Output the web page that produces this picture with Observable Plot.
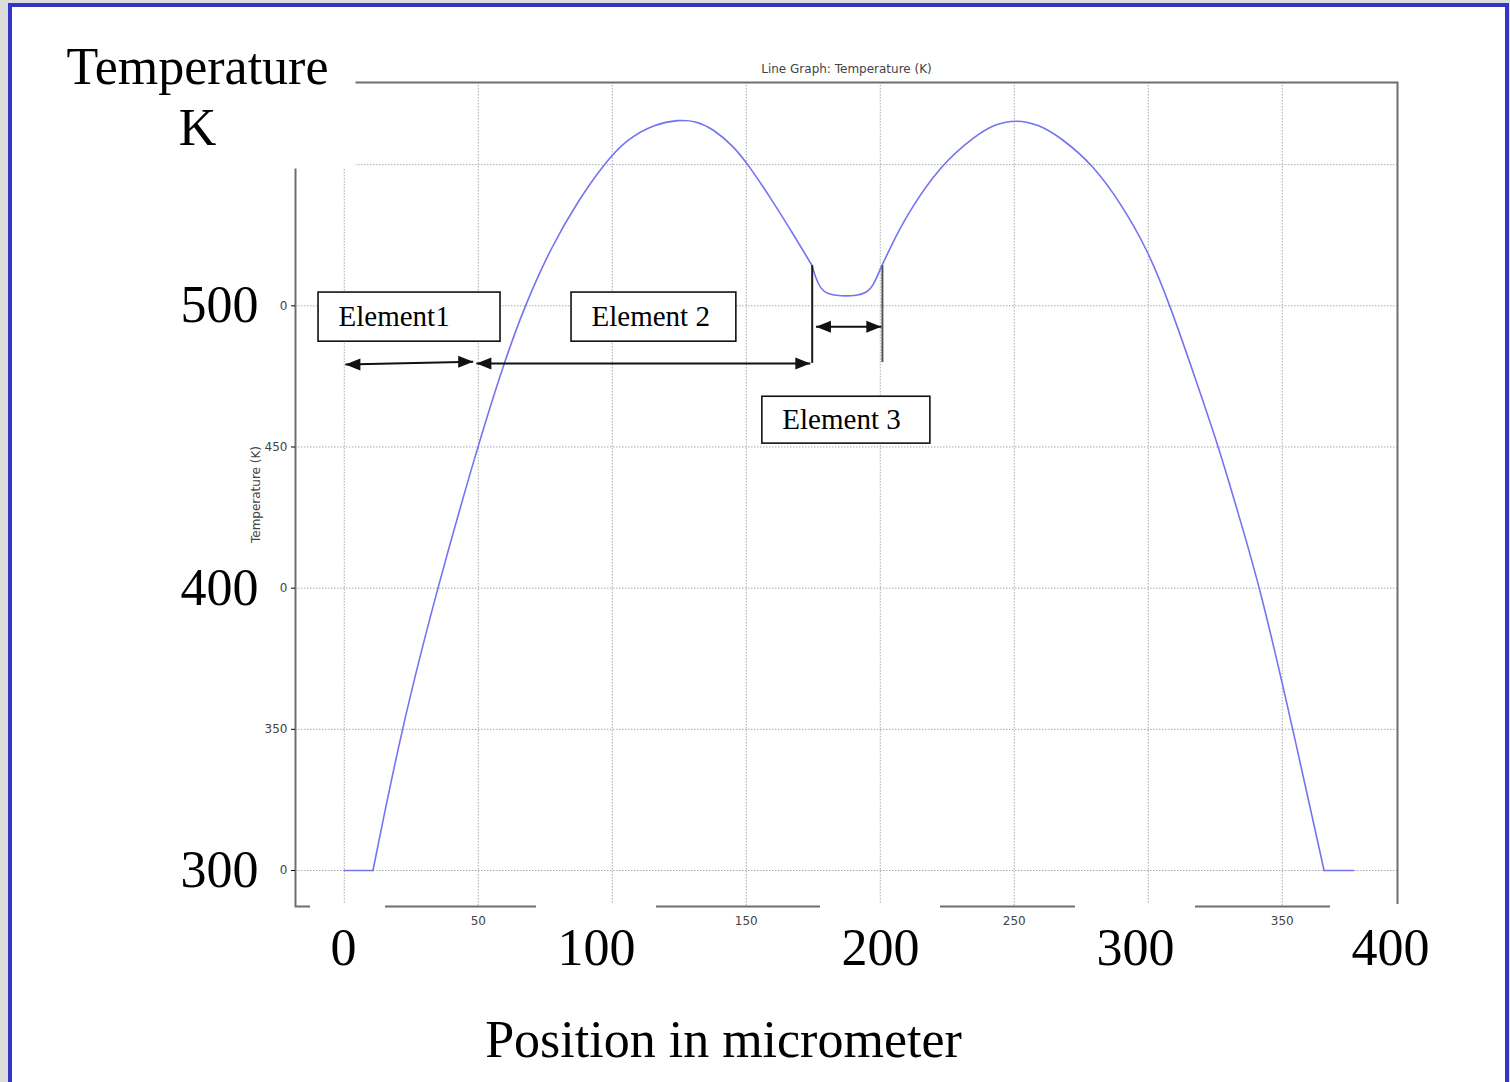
<!DOCTYPE html>
<html><head><meta charset="utf-8">
<script src="https://cdn.jsdelivr.net/npm/d3@7"></script>
<script src="https://cdn.jsdelivr.net/npm/@observablehq/plot@0.6"></script>
<style>
html,body{margin:0;padding:0;width:1510px;height:1082px;overflow:hidden;background:#dcdcdc;}
#frame{position:absolute;left:8px;top:3px;width:1493px;height:1100px;border:4px solid #3434c8;background:#fff;}
.layer{position:absolute;left:0;top:0;width:1510px;height:1082px;}
.layer svg{background:transparent !important;overflow:visible;}
</style></head><body>
<div id="frame"></div>
<div id="main" class="layer"></div>
<div id="bigx" class="layer"></div>
<div id="texts" class="layer"></div>
<script>
// ---- data ----
const posX  = [0, 10.7, 21.3, 34.7, 49.7, 59.3, 67.3, 77.3, 87.3, 96.7, 105.3, 116, 124.8, 131, 137.3, 145.3, 150.7, 158.7, 166.5, 174.6,
               175.8, 177.7, 180.2, 185.1, 191.4, 195.2, 197.4, 200.1, 203.8, 209.7, 222.6, 235.4, 243, 250.9, 259, 267.7, 279.3,
               290, 299.9, 308.2, 317.3, 326.3, 334, 341.8, 354, 365.6, 376.5];
const tempK = [300, 300, 350, 400, 450, 479, 500, 521, 537.3, 550, 559, 564.5, 565.9, 565.5, 562.9, 556.5, 550, 538.8, 527, 514.2,
               510.1, 506.1, 504.2, 503.4, 503.6, 504.8, 507.2, 513.2, 520.7, 532, 550, 560.2, 564.5, 565.9, 564.3, 559.4, 550,
               536, 519.6, 500, 475, 450, 425, 400, 350, 300, 300];
const kinkX = [10.7, 174.6, 200.1, 365.6];   // corners where the profile changes element / boundary

const xDomain = [-18.2, 393];       // micrometer range of the original plot box
const yDomain = [287.25, 579.1];    // kelvin range of the original plot box
const xGridTicks = [0, 50, 100, 150, 200, 250, 300, 350];
const yGridTicks = [300, 350, 400, 450, 500, 550];
const xSmallTicks = [50, 150, 250, 350];
const ySmallTicks = [300, 350, 400, 450, 500];
const bigYTicks = [300, 400, 500];
const bigXTicks = [0, 100, 200, 300, 400];
const bigXPixel = [343, 596, 880, 1135, 1390];   // where the hand-placed big labels sit

const chartTitle = "Line Graph: Temperature (K)";
const yAxisTitle = "Temperature (K)";
const bigYTitle = ["Temperature", "K"];
const bigXTitle = "Position in micrometer";

const boxLabels = ["Element1", "Element 2", "Element 3"];
const boxX1 = [-9.6, 84.8, 156.0];
const boxX2 = [58.3, 146.3, 218.7];
const boxY1 = [504.7, 504.7, 467.8];
const boxY2 = [487.3, 487.3, 451.2];

const arrowX1 = [0.4, 49.3, 176.0];
const arrowX2 = [48.1, 173.9, 200.4];
const arrowY1 = [479.2, 479.6, 492.6];
const arrowY2 = [480.2, 479.6, 492.6];

const boundX  = [174.6, 200.8];
const boundY1 = [479.6, 479.9];
const boundY2 = [514.2, 514.2];
const boundColor = ["#1a1a1a", "#555555"];

// ---- tables built from the arrays ----
const profile = [];
let seg = 0;
posX.forEach((x, i) => {
  profile.push({x, t: tempK[i], seg});
  if (kinkX.includes(x)) { seg++; profile.push({x, t: tempK[i], seg}); }
});
const boxes = boxLabels.map((label, i) => ({label, x1: boxX1[i], x2: boxX2[i], y1: boxY1[i], y2: boxY2[i]}));
const arrows = arrowX1.map((x1, i) => ({x1, x2: arrowX2[i], y1: arrowY1[i], y2: arrowY2[i]}));
const bounds = boundX.map((x, i) => ({x, y1: boundY1[i], y2: boundY2[i], c: boundColor[i]}));

const headRight = {draw(ctx){ ctx.moveTo(0,0); ctx.lineTo(-15,-6); ctx.lineTo(-15,6); ctx.closePath(); }};
const headLeft  = {draw(ctx){ ctx.moveTo(0,0); ctx.lineTo(15,-6); ctx.lineTo(15,6); ctx.closePath(); }};

const serif = "'Liberation Serif', 'Times New Roman', serif";
const sans = "'DejaVu Sans', Verdana, sans-serif";
const gridStyle = {stroke: "#a9a9a9", strokeOpacity: 1, strokeWidth: 1, strokeDasharray: "1.5,1.5"};

const main = Plot.plot({
  width: 1510, height: 1082,
  marginTop: 82, marginRight: 113, marginBottom: 176, marginLeft: 295,
  style: {background: "transparent", overflow: "visible"},
  x: {domain: xDomain, axis: null},
  y: {domain: yDomain, axis: null},
  marks: [
    Plot.gridX(xGridTicks, gridStyle),
    Plot.gridY(yGridTicks, gridStyle),
    Plot.frame({stroke: "#6e6e6e", strokeWidth: 2}),
    Plot.axisX(xSmallTicks, {anchor: "bottom", tickSize: 0, tickPadding: 10, fontSize: 12, fontFamily: sans, fill: "#444", label: null}),
    Plot.axisY(ySmallTicks, {anchor: "left", tickSize: 4, tickPadding: 4, fontSize: 12, fontFamily: sans, fill: "#444", label: null,
      tickFormat: d => bigYTicks.includes(d) ? String(d).slice(-1) : String(d)}),
    Plot.text([yAxisTitle], {frameAnchor: "left", dx: -39, rotate: -90, textAnchor: "middle", lineAnchor: "middle", fontSize: 12, fontFamily: sans, fill: "#444"}),
    Plot.text([chartTitle], {frameAnchor: "top", dy: -13, lineAnchor: "middle", fontSize: 12, fontFamily: sans, fill: "#444"}),
    Plot.text(bigYTicks, {y: d => d, text: d => String(d), frameAnchor: "left", dx: -76, textAnchor: "middle", lineAnchor: "middle", fontSize: 52, fontFamily: serif, fill: "#000"}),
    Plot.line(profile, {x: "x", y: "t", z: "seg", curve: "basis", stroke: "#7474f0", strokeWidth: 1.6}),
    Plot.rect(boxes, {x1: "x1", x2: "x2", y1: "y1", y2: "y2", fill: "white", stroke: "#111", strokeWidth: 1.6}),
    Plot.text(boxes, {x: "x1", y: d => (d.y1 + d.y2) / 2, text: "label", textAnchor: "start", dx: 20, fontSize: 29, fontFamily: serif, fill: "#000"}),
    Plot.ruleX(bounds, {x: "x", y1: "y1", y2: "y2", stroke: "c", strokeWidth: 2}),
    Plot.link(arrows, {x1: "x1", y1: "y1", x2: "x2", y2: "y2", stroke: "#111", strokeWidth: 2}),
    Plot.dot(arrows, {x: "x2", y: "y2", symbol: headRight, fill: "#111", r: 6}),
    Plot.dot(arrows, {x: "x1", y: "y1", symbol: headLeft, fill: "#111", r: 6})
  ]
});
document.getElementById("main").appendChild(main);

// big hand-placed x labels overlaid on the original axis, each with a white backing
const bigx = Plot.plot({
  width: 1510, height: 1082,
  marginTop: 904, marginBottom: 90, marginLeft: 0, marginRight: 0,
  style: {background: "transparent", overflow: "visible"},
  x: {type: "linear", domain: bigXTicks, range: bigXPixel, axis: null},
  marks: [
    Plot.rect(bigXTicks.filter(d => String(d).length > 1), {x1: d => d, x2: d => d, insetLeft: -60, insetRight: -60, fill: "white"}),
    Plot.rect(bigXTicks.filter(d => String(d).length === 1), {x1: d => d, x2: d => d, insetLeft: -33, insetRight: -42, fill: "white"}),
    Plot.text(bigXTicks, {x: d => d, text: d => String(d), fontSize: 52, fontFamily: serif, fill: "#000"})
  ]
});
document.getElementById("bigx").appendChild(bigx);

// white panel over the top-left corner with the big axis titles
const bigText = {textAnchor: "middle", lineAnchor: "middle", fontSize: 52, fontFamily: serif, fill: "#000"};
const texts = Plot.plot({
  width: 1510, height: 1082,
  marginLeft: 12, marginTop: 7, marginRight: 1155, marginBottom: 914,
  style: {background: "transparent", overflow: "visible"},
  marks: [
    Plot.frame({fill: "white", stroke: "none"}),
    Plot.text([bigYTitle[0]], {frameAnchor: "top-left", dx: 185, dy: 60, ...bigText}),
    Plot.text([bigYTitle[1]], {frameAnchor: "top-left", dx: 185, dy: 121, ...bigText}),
    Plot.text([bigXTitle], {frameAnchor: "top-left", dx: 711, dy: 1033, ...bigText})
  ]
});
document.getElementById("texts").appendChild(texts);
</script>
</body></html>
